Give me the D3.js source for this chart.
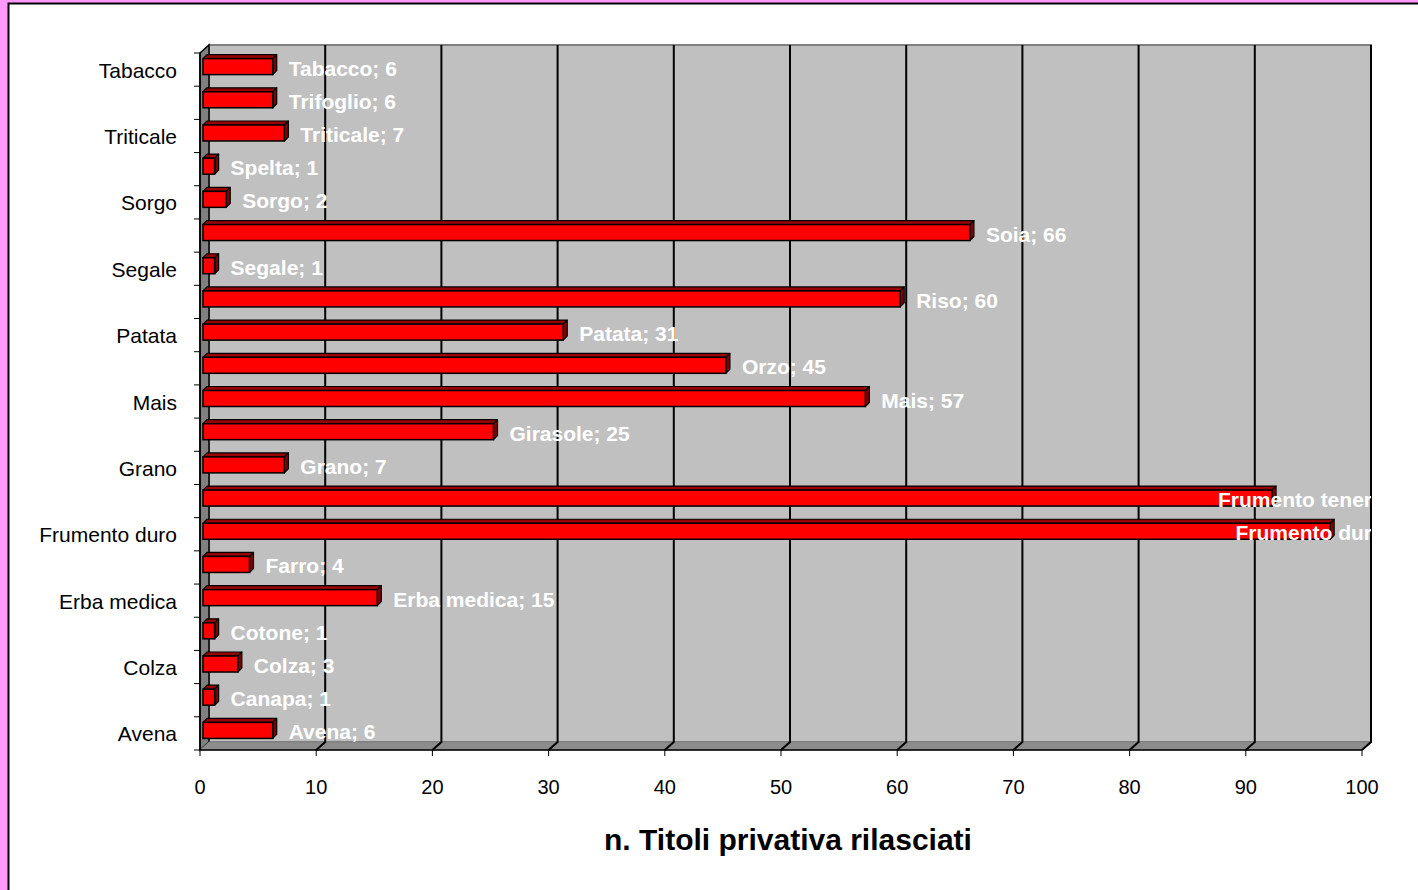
<!DOCTYPE html>
<html>
<head>
<meta charset="utf-8">
<script src="https://cdn.jsdelivr.net/npm/d3@7"></script>
<style>
  body { margin: 0; background: #ff99ff; }
  svg { display: block; font-family: Arial, "Liberation Sans", sans-serif; }
</style>
</head>
<body>
<div id="chart"></div>
<script>
// categories, bottom to top
var colture = ["Avena", "Canapa", "Colza", "Cotone", "Erba medica", "Farro",
  "Frumento duro", "Frumento tenero", "Grano", "Girasole", "Mais", "Orzo",
  "Patata", "Riso", "Segale", "Soia", "Sorgo", "Spelta", "Triticale",
  "Trifoglio", "Tabacco"];
var titoli = [6, 1, 3, 1, 15, 4, 97, 92, 7, 25, 57, 45, 31, 60, 1, 66, 2, 1, 7, 6, 6];
var xTicks = [0, 10, 20, 30, 40, 50, 60, 70, 80, 90, 100];
var xTitle = "n. Titoli privativa rilasciati";

var svgWidth = 1418, svgHeight = 890;
// depth of the 3d box and of the bars
var dx = 9, dy = -8;
var bdx = 4, bdy = -4;

var svg = d3.select("#chart").append("svg")
  .attr("width", svgWidth)
  .attr("height", svgHeight);

// chart area
svg.append("rect").attr("x", 0).attr("y", 0).attr("width", svgWidth).attr("height", svgHeight).attr("fill", "#ff99ff");
svg.append("rect").attr("x", 8.5).attr("y", 3.5).attr("width", svgWidth).attr("height", svgHeight)
  .attr("fill", "#ffffff").attr("stroke", "#000").attr("stroke-width", 2);

var x = d3.scaleLinear().domain([0, 100]).range([200, 1362]);
var y = d3.scaleBand().domain(colture).range([750, 53]);

var x0 = x(0), x1 = x(100), yTop = 53, yBot = 750;

// back wall
svg.append("rect")
  .attr("x", x0 + dx).attr("y", yTop + dy)
  .attr("width", x1 - x0).attr("height", yBot - yTop)
  .attr("fill", "#c0c0c0").attr("stroke", "#808080").attr("stroke-width", 2);

// left wall
svg.append("polygon")
  .attr("points", [[x0, yTop], [x0 + dx, yTop + dy], [x0 + dx, yBot + dy], [x0, yBot]].join(" "))
  .attr("fill", "#808080").attr("stroke", "#000").attr("stroke-width", 1.5);

// floor
svg.append("polygon")
  .attr("points", [[x0, yBot], [x0 + dx, yBot + dy], [x1 + dx, yBot + dy], [x1, yBot]].join(" "))
  .attr("fill", "#8c8c8c").attr("stroke", "#808080").attr("stroke-width", 1);

// gridlines on the back wall + floor diagonals
var grid = svg.append("g");
xTicks.filter(d => d > 0).forEach(function(t) {
  grid.append("polyline")
    .attr("points", [[x(t) + dx, yTop + dy], [x(t) + dx, yBot + dy], [x(t), yBot]].join(" "))
    .attr("fill", "none").attr("stroke", "#000").attr("stroke-width", 2);
});

// axes lines
svg.append("line").attr("x1", x0).attr("x2", x1).attr("y1", yBot).attr("y2", yBot)
  .attr("stroke", "#000").attr("stroke-width", 1.5);
svg.append("line").attr("x1", x0).attr("x2", x0).attr("y1", yTop).attr("y2", yBot)
  .attr("stroke", "#000").attr("stroke-width", 1.5);

// x axis ticks & labels
var xAxis = svg.append("g");
xTicks.forEach(function(t) {
  xAxis.append("line").attr("x1", x(t)).attr("x2", x(t)).attr("y1", yBot).attr("y2", yBot + 6)
    .attr("stroke", "#000").attr("stroke-width", 1);
  xAxis.append("text").attr("x", x(t)).attr("y", 794)
    .attr("text-anchor", "middle").attr("font-size", 20).text(t);
});

// y axis ticks (category boundaries) & labels
var yAxis = svg.append("g");
colture.forEach(function(c, i) {
  yAxis.append("line").attr("x1", x0 - 6).attr("x2", x0).attr("y1", y(c)).attr("y2", y(c))
    .attr("stroke", "#000").attr("stroke-width", 1);
  if (i % 2 === 0) {
    yAxis.append("text").attr("x", 177).attr("y", y(c) + y.bandwidth() / 2 + 8)
      .attr("text-anchor", "end").attr("font-size", 21).text(c);
  }
});
yAxis.append("line").attr("x1", x0 - 6).attr("x2", x0).attr("y1", yBot).attr("y2", yBot)
  .attr("stroke", "#000").attr("stroke-width", 1);

// 3d bars
var barH = 16;
var bars = svg.append("g");
colture.forEach(function(c, i) {
  var v = titoli[i];
  var bx0 = x(0) + 3, bx1 = x(v) + 3;
  var cy = y(c) + y.bandwidth() / 2 - 3;
  var top = cy - barH / 2, bot = cy + barH / 2;
  // top face
  bars.append("polygon")
    .attr("points", [[bx0, top], [bx0 + bdx, top + bdy], [bx1 + bdx, top + bdy], [bx1, top]].join(" "))
    .attr("fill", "#990000").attr("stroke", "#000").attr("stroke-width", 1.2).attr("stroke-linejoin", "round");
  // side face
  bars.append("polygon")
    .attr("points", [[bx1, top], [bx1 + bdx, top + bdy], [bx1 + bdx, bot + bdy], [bx1, bot]].join(" "))
    .attr("fill", "#800000").attr("stroke", "#000").attr("stroke-width", 1.2).attr("stroke-linejoin", "round");
  // front face
  bars.append("rect")
    .attr("x", bx0).attr("y", top).attr("width", bx1 - bx0).attr("height", barH)
    .attr("fill", "#ff0000").attr("stroke", "#000").attr("stroke-width", 1.5);
});

// data labels, clipped at the back wall's right edge
svg.append("clipPath").attr("id", "plotClip")
  .append("rect").attr("x", 0).attr("y", 0).attr("width", x1 + dx).attr("height", svgHeight);

var labels = svg.append("g").attr("clip-path", "url(#plotClip)");
colture.forEach(function(c, i) {
  var v = titoli[i];
  var t = labels.append("text")
    .attr("y", y(c) + y.bandwidth() / 2 + 6)
    .attr("font-size", 21).attr("font-weight", "bold").attr("fill", "#ffffff")
    .text(c + "; " + v);
  var lx = x(v) + 3 + 16;
  var w = t.node().getComputedTextLength();
  if (lx + w > svgWidth + 3) lx = svgWidth + 3 - w;
  t.attr("x", lx);
});

// axis title
svg.append("text").attr("x", 788).attr("y", 850)
  .attr("text-anchor", "middle").attr("font-size", 30).attr("font-weight", "bold")
  .text(xTitle);
</script>
</body>
</html>
